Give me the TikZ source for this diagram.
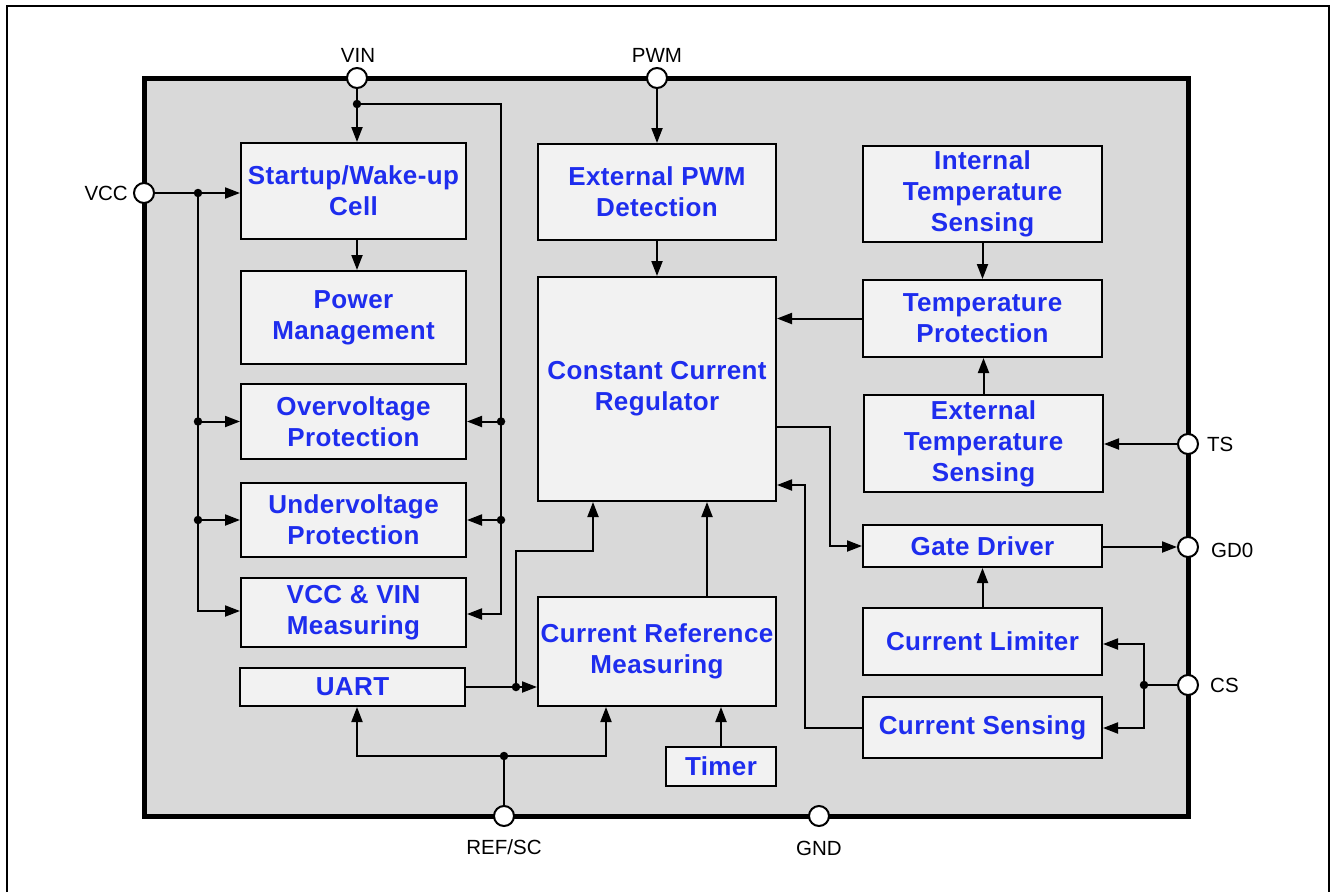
\documentclass[tikz,border=0pt]{standalone}
\usepackage{fontspec}
\setmainfont{Liberation Sans}
\newfontfamily\blkfont[LetterSpace=1.5]{Liberation Sans}
\usetikzlibrary{arrows.meta,calc}
\definecolor{chipgray}{RGB}{217,217,217}
\definecolor{boxfill}{RGB}{242,242,242}
\definecolor{txtblue}{RGB}{30,45,238}
\newcommand\blkbox[6]{\node[blk, minimum width={#4-#2}, minimum height={#5-#3}] (#1) at ({(#2+#4)/2},{(#3+#5)/2}) {#6};}
\begin{document}
\begin{tikzpicture}[x=1pt,y=-1pt,
  blk/.style={draw=black, line width=2pt, fill=boxfill, inner sep=0pt, align=center, text=txtblue, font=\blkfont\fontsize{26}{31}\selectfont\bfseries},
  pin/.style={circle, draw=black, line width=2pt, fill=white, minimum size=20pt, inner sep=0pt},
  plabel/.style={font=\fontsize{20.5}{24}\selectfont, text=black, inner sep=0pt},
  wire/.style={line width=2pt},
  arr/.style={wire, -{Triangle[length=15pt,width=11pt]}},
  jdot/.style={circle, fill=black, minimum size=8.5pt, inner sep=0pt}]

\useasboundingbox (0,0) rectangle (1331,892);
\draw[line width=2.5pt] (7,892) -- (7,6) -- (1329,6) -- (1329,892);
\draw[line width=5pt, fill=chipgray] (144,78) rectangle (1188,816);

% blocks
\blkbox{startup}{241}{143}{466}{239}{Startup/Wake-up\\Cell}
\blkbox{power}{241}{271}{466}{364}{Power\\Management}
\blkbox{ovp}{241}{384}{466}{459}{Overvoltage\\Protection}
\blkbox{uvp}{241}{483}{466}{557}{Undervoltage\\Protection}
\blkbox{meas}{241}{578}{466}{647}{VCC \& VIN\\Measuring}
\blkbox{uart}{240}{668}{465}{706}{UART}
\blkbox{pwmdet}{538}{144}{776}{240}{External PWM\\Detection}
\blkbox{ccr}{538}{277}{776}{501}{Constant Current\\Regulator}
\blkbox{crm}{538}{597}{776}{706}{Current Reference\\Measuring}
\blkbox{timer}{666}{747}{776}{786}{Timer}
\blkbox{its}{863}{146}{1102}{242}{Internal\\Temperature\\Sensing}
\blkbox{tprot}{863}{280}{1102}{357}{Temperature\\Protection}
\blkbox{ets}{864}{395}{1103}{492}{External\\Temperature\\Sensing}
\blkbox{gate}{863}{525}{1102}{567}{Gate Driver}
\blkbox{climit}{863}{608}{1102}{675}{Current Limiter}
\blkbox{csense}{863}{697}{1102}{758}{Current Sensing}

% pins
\node[pin] (vin) at (357,78) {};
\node[pin] (pwm) at (657,78) {};
\node[pin] (vcc) at (144,193) {};
\node[pin] (ts) at (1188,444) {};
\node[pin] (gd0) at (1188,547) {};
\node[pin] (cs) at (1188,685) {};
\node[pin] (ref) at (504,816) {};
\node[pin] (gnd) at (819,816) {};

\node[plabel] (lvin) at (358,55) {VIN};
\node[plabel] (lpwm) at (657,55) {PWM};
\node[plabel, anchor=east] (lvcc) at (128,193) {VCC};
\node[plabel, anchor=west] (lts) at (1207,444) {TS};
\node[plabel, anchor=west] (lgd0) at (1211,550) {GD0};
\node[plabel, anchor=west] (lcs) at (1210,685) {CS};
\node[plabel] (lref) at (504,847) {REF/SC};
\node[plabel] (lgnd) at (819,848) {GND};

% coordinates
\coordinate (vj) at (357,104);
\coordinate (vbt) at (501,104);
\coordinate (vbb) at (501,614);
\coordinate (cj) at (198,193);
\coordinate (cbb) at (198,611);
\coordinate (g1) at (830,427);
\coordinate (csj) at (1144,685);
\coordinate (csa) at (1144,644);
\coordinate (csb) at (1144,728);
\coordinate (s1) at (805,728);
\coordinate (s2) at (805,485);
\coordinate (c1) at (707,550);
\coordinate (uj) at (516,687);
\coordinate (u2) at (516,551);
\coordinate (u3) at (593,551);
\coordinate (rj) at (504,756);
\coordinate (rl) at (357,756);
\coordinate (rr) at (606,756);

% VIN bus
\draw[wire] (vin.south) -- (vj);
\draw[arr] (vj) -- (vj |- startup.north);
\draw[arr] (vj) -- (vbt) -- (vbb) -- (vbb -| meas.east);
\draw[arr] (vbt |- ovp.east) -- (ovp.east);
\draw[arr] (vbt |- uvp.east) -- (uvp.east);
\draw[arr] (vj |- startup.south) -- (vj |- power.north);

% VCC bus
\draw[arr] (vcc.east) -- (vcc -| startup.west);
\draw[arr] (cj) -- (cbb) -- (cbb -| meas.west);
\draw[arr] (cj |- ovp.west) -- (ovp.west);
\draw[arr] (cj |- uvp.west) -- (uvp.west);

% PWM path
\draw[arr] (pwm.south) -- (pwm |- pwmdet.north);
\draw[arr] (pwmdet.south) -- (ccr.north);

% temperature
\draw[arr] (its.south) -- (tprot.north);
\draw[arr] (tprot.west) -- (tprot.west -| ccr.east);
\draw[arr] (ets.north) -- (ets.north |- tprot.south);
\draw[arr] (ts.west) -- (ts -| ets.east);

% gate driver
\draw[arr] (ccr.east |- g1) -- (g1) -- (g1 |- gate.west) -- (gate.west);
\draw[arr] (gate.east |- gd0) -- (gd0.west);
\draw[arr] (climit.north) -- (gate.south);

% CS
\draw[wire] (cs.west) -- (csj);
\draw[arr] (csj) -- (csa) -- (csa -| climit.east);
\draw[arr] (csj) -- (csb) -- (csb -| csense.east);
\draw[arr] (s1 -| csense.west) -- (s1) -- (s2) -- (s2 -| ccr.east);

% current reference
\draw[arr] (c1 |- crm.north) -- (c1 |- ccr.south);
\draw[arr] (uart.east |- uj) -- (uj) -- (uj -| crm.west);
\draw[arr] (uj) -- (u2) -- (u3) -- (u3 |- ccr.south);
\draw[wire] (ref.north) -- (rj);
\draw[arr] (rj) -- (rl) -- (rl |- uart.south);
\draw[arr] (rj) -- (rr) -- (rr |- crm.south);
\draw[arr] (timer.north) -- (timer.north |- crm.south);

% junction dots
\foreach \p/\n in {vj/d1, cj/d2, csj/d3, uj/d4, rj/d5} \node[jdot] (\n) at (\p) {};
\node[jdot] (d6) at (vbt |- ovp.east) {};
\node[jdot] (d7) at (vbt |- uvp.east) {};
\node[jdot] (d8) at (cj |- ovp.west) {};
\node[jdot] (d9) at (cj |- uvp.west) {};
\end{tikzpicture}
\end{document}
